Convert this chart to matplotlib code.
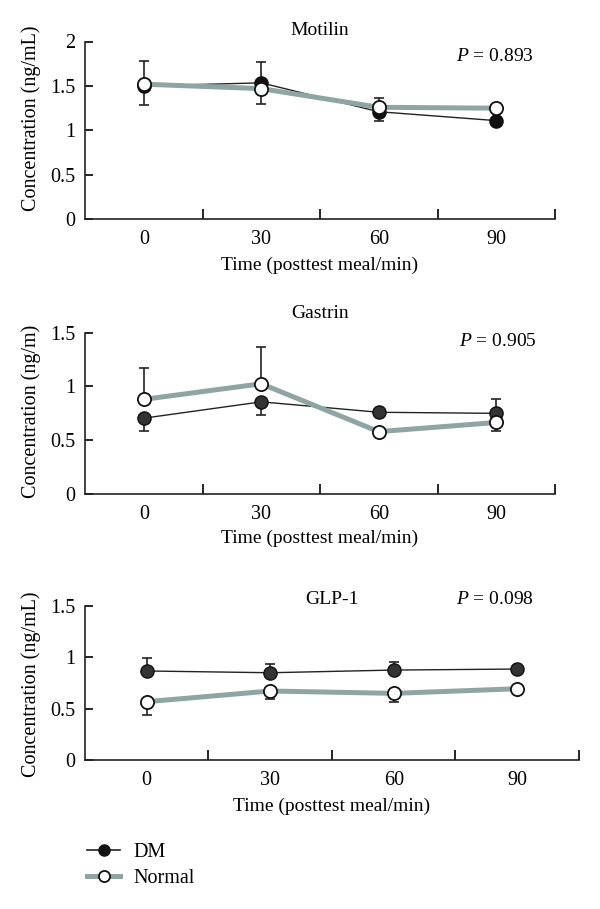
import matplotlib
matplotlib.use("Agg")
import matplotlib.pyplot as plt
from matplotlib.lines import Line2D

plt.rcParams['font.family'] = ['Liberation Serif', 'DejaVu Serif']
plt.rcParams['font.size'] = 14
plt.rcParams['mathtext.fontset'] = 'custom'
plt.rcParams['mathtext.rm'] = 'Liberation Serif'
plt.rcParams['mathtext.it'] = 'Liberation Serif:italic'

times = [0, 30, 60, 90]
time_labels = ['0', '30', '60', '90']

# Motilin
motilin_dm = [1.50, 1.535, 1.21, 1.11]
motilin_normal = [1.52, 1.47, 1.26, 1.25]
motilin_dm_err_up = [0.28, 0.235, 0.0, 0.0]
motilin_dm_err_down = [0.0, 0.0, 0.10, 0.0]
motilin_normal_err_up = [0.0, 0.0, 0.11, 0.0]
motilin_normal_err_down = [0.23, 0.17, 0.0, 0.0]

# Gastrin
gastrin_dm = [0.705, 0.857, 0.76, 0.75]
gastrin_normal = [0.88, 1.025, 0.58, 0.665]
gastrin_dm_err_up = [0.0, 0.0, 0.0, 0.135]
gastrin_dm_err_down = [0.118, 0.124, 0.0, 0.0]
gastrin_normal_err_up = [0.29, 0.345, 0.0, 0.0]
gastrin_normal_err_down = [0.0, 0.0, 0.0, 0.075]

# GLP-1
glp1_dm = [0.867, 0.85, 0.876, 0.886]
glp1_normal = [0.568, 0.672, 0.649, 0.694]
glp1_dm_err_up = [0.129, 0.085, 0.074, 0.0]
glp1_dm_err_down = [0.0, 0.0, 0.0, 0.0]
glp1_normal_err_up = [0.0, 0.0, 0.0, 0.0]
glp1_normal_err_down = [0.133, 0.082, 0.081, 0.0]

W, H = 600, 909
fig = plt.figure(figsize=(W / 100, H / 100), dpi=100)

def fx(px):
    return px / W

def fy(py):
    return 1 - py / H

gray = '#8fa5a3'

panels = [
    dict(box=(85, 555, 41.5, 219.3), ymax=2.0, yticks=[0, 0.5, 1, 1.5, 2],
         yticklabels=['0', '0.5', '1', '1.5', '2'],
         dm=motilin_dm, normal=motilin_normal,
         dm_err=(motilin_dm_err_down, motilin_dm_err_up),
         normal_err=(motilin_normal_err_down, motilin_normal_err_up),
         title='Motilin', title_xy=(320, 30.7), p='0.893', p_xy=(456, 56.7),
         ylabel='Concentration (ng/mL)', ylabel_y=118, xlabel_y=265,
         dm_color='#111111'),
    dict(box=(85, 555, 332.7, 494), ymax=1.5, yticks=[0, 0.5, 1, 1.5],
         yticklabels=['0', '0.5', '1', '1.5'],
         dm=gastrin_dm, normal=gastrin_normal,
         dm_err=(gastrin_dm_err_down, gastrin_dm_err_up),
         normal_err=(gastrin_normal_err_down, gastrin_normal_err_up),
         title='Gastrin', title_xy=(320, 314), p='0.905', p_xy=(459, 341.7),
         ylabel='Concentration (ng/m)', ylabel_y=411, xlabel_y=538,
         dm_color='#333333'),
    dict(box=(85, 579, 606, 760), ymax=1.5, yticks=[0, 0.5, 1, 1.5],
         yticklabels=['0', '0.5', '1', '1.5'],
         dm=glp1_dm, normal=glp1_normal,
         dm_err=(glp1_dm_err_down, glp1_dm_err_up),
         normal_err=(glp1_normal_err_down, glp1_normal_err_up),
         title='GLP-1', title_xy=(332, 600), p='0.098', p_xy=(456, 600),
         ylabel='Concentration (ng/mL)', ylabel_y=684, xlabel_y=806.7,
         dm_color='#333333'),
]

for pnl in panels:
    x0, x1, ytop, ybot = pnl['box']
    ax = fig.add_axes([fx(x0), fy(ybot), fx(x1) - fx(x0), fy(ytop) - fy(ybot)])
    ax.set_xlim(-15, 105)
    ax.set_ylim(0, pnl['ymax'])
    for s in ['top', 'right']:
        ax.spines[s].set_visible(False)
    for s in ['left', 'bottom']:
        ax.spines[s].set_linewidth(1.2)
        ax.spines[s].set_color('#222222')

    ax.set_xticks(times)
    ax.set_xticklabels(time_labels)
    ax.set_xticks([15, 45, 75, 105], minor=True)
    ax.tick_params(axis='x', which='major', length=0, pad=8, labelsize=14.5)
    ax.tick_params(axis='x', which='minor', direction='in', length=7, width=1.2)
    ax.set_yticks(pnl['yticks'])
    ax.set_yticklabels(pnl['yticklabels'])
    ax.tick_params(axis='y', direction='in', length=6, width=1.2, pad=7,
                   labelsize=14.5)

    # error bars
    ax.errorbar(times, pnl['dm'], yerr=[pnl['dm_err'][0], pnl['dm_err'][1]],
                fmt='none', ecolor='#222222', elinewidth=1.2, capsize=3.5,
                capthick=1.2, zorder=2)
    ax.errorbar(times, pnl['normal'], yerr=[pnl['normal_err'][0], pnl['normal_err'][1]],
                fmt='none', ecolor='#222222', elinewidth=1.2, capsize=3.5,
                capthick=1.2, zorder=2)

    # lines
    ax.plot(times, pnl['dm'], color='#222222', lw=1.0, zorder=3)
    ax.plot(times, pnl['normal'], color=gray, lw=3.6, zorder=4)
    ax.plot(times, pnl['dm'], 'o', color=pnl['dm_color'], ms=9.5,
            mec='#111111', mew=1.0, zorder=5)
    ax.plot(times, pnl['normal'], 'o', mfc='white', mec='#111111', ms=9.5,
            mew=1.3, zorder=6)

    fig.text(fx(pnl['title_xy'][0]), fy(pnl['title_xy'][1]), pnl['title'],
             ha='center', va='center')
    fig.text(fx(pnl['p_xy'][0]), fy(pnl['p_xy'][1]), '$P$ = ' + pnl['p'],
             ha='left', va='center')
    fig.text(fx(31.5), fy(pnl['ylabel_y']), pnl['ylabel'], rotation=90,
             ha='center', va='center', fontsize=14.5)
    fig.text(fx((x0 + x1) / 2), fy(pnl['xlabel_y']), 'Time (posttest meal/min)',
             ha='center', va='center')

handles = [
    Line2D([], [], color='#222222', lw=1.2, marker='o', ms=8, mfc='#111111', mec='#111111'),
    Line2D([], [], color=gray, lw=3.6, marker='o', ms=8, mfc='white', mec='#111111', mew=1.3),
]
fig.legend(handles, ['DM', 'Normal'], loc='upper left',
           bbox_to_anchor=(fx(87), fy(843)), frameon=False, borderpad=0,
           borderaxespad=0, handlelength=1.65, handletextpad=0.65,
           labelspacing=0.32, fontsize=14.5)

fig.savefig('out.png', dpi=100)
